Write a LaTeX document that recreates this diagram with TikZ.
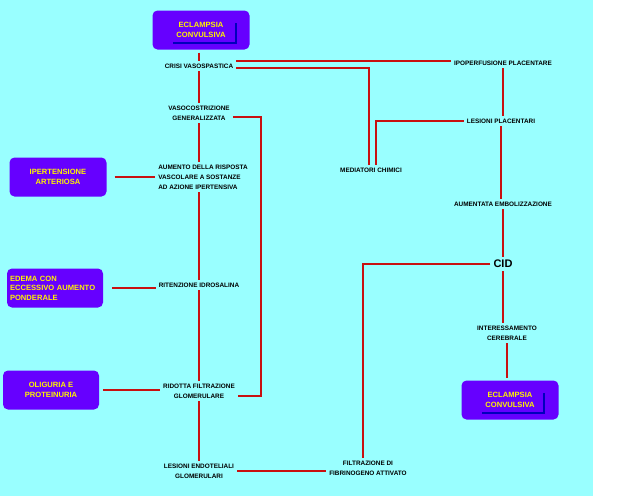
\documentclass[tikz,border=0pt]{standalone}
\usepackage{fontspec}
\setmainfont{Liberation Sans}
\usepackage{xcolor}
\usetikzlibrary{calc, positioning}

\definecolor{fondo}{RGB}{153,255,255}
\definecolor{viola}{RGB}{102,0,255}
\definecolor{rosso}{RGB}{200,16,16}
\definecolor{ombra}{RGB}{0,0,190}

\begin{document}
\begin{tikzpicture}[x=1pt, y=-1pt,
    box/.style={fill=viola, rounded corners=5pt, minimum width=97pt, minimum height=39pt,
        text=yellow, font=\fontsize{7.6}{9.5}\selectfont\bfseries, align=center, outer sep=3pt},
    voce/.style={inner sep=3pt, font=\fontsize{6.4}{10}\selectfont\bfseries, align=center},
    link/.style={rosso, line width=1.8pt}]

    % 1. Sfondo
    \useasboundingbox (0,0) rectangle (640,496);
    \fill[fondo] (0,0) rectangle (593,496);

    % 2. Riquadri viola
    \node[box] (ecl1) at (201,30) {ECLAMPSIA\\CONVULSIVA};
    \node[box] (ecl2) at (510,400) {ECLAMPSIA\\CONVULSIVA};
    \node[box] (iper) at (58,177) {IPERTENSIONE\\ARTERIOSA};
    \node[box, minimum width=96pt, text width=90pt, align=left, inner sep=3pt] (edema) at (55,288)
        {EDEMA CON\\ECCESSIVO AUMENTO\\PONDERALE};
    \node[box, minimum width=96pt] (olig) at (51,390) {OLIGURIA E\\PROTEINURIA};

    % ombra blu sotto le scritte
    \draw[ombra, line width=1.5pt] ($(ecl1.center)+(-28,13)$) -- ++(63,0) -- ++(0,-20);
    \draw[ombra, line width=1.5pt] ($(ecl2.center)+(-28,13)$) -- ++(62,0) -- ++(0,-20);

    % 3. Voci della catena centrale
    \node[voce] (crisi) at (199,66) {CRISI VASOSPASTICA};
    \node[voce] (vaso) at (199,113) {VASOCOSTRIZIONE\\GENERALIZZATA};
    \node[voce, align=left] (aum) at (203,177) {AUMENTO DELLA RISPOSTA\\VASCOLARE A SOSTANZE\\AD AZIONE IPERTENSIVA};
    \node[voce] (rit) at (199,285) {RITENZIONE IDROSALINA};
    \node[voce] (rid) at (199,391) {RIDOTTA FILTRAZIONE\\GLOMERULARE};
    \node[voce] (lesend) at (199,471) {LESIONI ENDOTELIALI\\GLOMERULARI};
    \node[voce] (fibr) at (368,468) {FILTRAZIONE DI\\FIBRINOGENO ATTIVATO};

    % 4. Voci a destra
    \node[voce] (med) at (371,170) {MEDIATORI CHIMICI};
    \node[voce] (ipo) at (503,63) {IPOPERFUSIONE PLACENTARE};
    \node[voce] (lespl) at (501,121) {LESIONI PLACENTARI};
    \node[voce] (embo) at (503,204) {AUMENTATA EMBOLIZZAZIONE};
    \node[voce, font=\fontsize{11}{12}\selectfont\bfseries] (cid) at (503,264) {CID};
    \node[voce] (inter) at (507,333) {INTERESSAMENTO\\CEREBRALE};

    % 5. Collegamenti
    \draw[link] (ecl1.south -| crisi) -- (crisi);
    \draw[link] (crisi) -- (vaso);
    \draw[link] (vaso) -- (vaso |- aum.north);
    \draw[link] (aum.south -| rit) -- (rit);
    \draw[link] (rit) -- (rid);
    \draw[link] (rid) -- (lesend);

    \draw[link, shorten <=5pt] (iper) -- (iper -| aum.west);
    \draw[link, shorten <=6pt] (edema) -- (edema -| rit.west);
    \draw[link, shorten <=1pt] (olig) -- (olig -| rid.west);
    \draw[link] ([yshift=-4pt]vaso.east) -- ++(28,0) |- ([yshift=-5pt]rid.east);

    \draw[link] (lesend) -- (lesend -| fibr.west);
    \draw[link] (cid.west) -| ([xshift=-5pt]fibr.north);

    \draw[link] ([yshift=5pt]crisi.east) -- ([yshift=5pt]crisi.east -| ipo.west);
    \draw[link] ([yshift=-2pt]crisi.east) -| ([xshift=-2pt]med.north);
    \draw[link] (lespl.west) -| ([xshift=5pt]med.north);

    \draw[link] (ipo) -- (ipo |- lespl.north);
    \draw[link] (lespl) -- (lespl |- embo.north);
    \draw[link] (embo) -- (embo |- cid.north);
    \draw[link] (cid) -- (cid |- inter.north);
    \draw[link] (inter) -- (inter |- ecl2.north);
\end{tikzpicture}
\end{document}
